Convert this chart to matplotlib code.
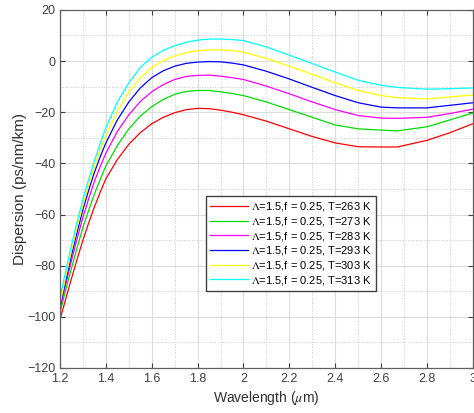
import matplotlib
matplotlib.use('Agg')
import matplotlib.pyplot as plt
from matplotlib.ticker import MultipleLocator, FuncFormatter

plt.rcParams['font.family'] = ['Liberation Sans', 'DejaVu Sans']
plt.rcParams['mathtext.fontset'] = 'stix'

wavelength = [1.2, 1.225, 1.25, 1.275, 1.3, 1.325, 1.35, 1.375, 1.4, 1.45, 1.5,
              1.55, 1.6, 1.65, 1.7, 1.75, 1.8, 1.85, 1.9, 1.95, 2.0, 2.1, 2.2,
              2.3, 2.4, 2.5, 2.6, 2.67, 2.8, 2.9, 3.0]

d_263 = [-101, -93, -85, -77.3, -70, -63.3, -57, -51.3, -46, -38.5, -32.5,
         -28, -24.5, -22, -20.2, -19, -18.5, -18.6, -19.2, -20, -21, -23.5, -26.5,
         -29.5, -32, -33.5, -33.6, -33.6, -31, -28, -24.5]
d_273 = [-98.5, -89.5, -81, -72.8, -65, -58.3, -52, -46.3, -41, -33, -26.5,
         -21.5, -17.8, -15, -13, -11.9, -11.5, -11.5, -12, -12.7, -13.5, -16, -19,
         -22, -25, -26.5, -27, -27.3, -25.7, -23, -20.3]
d_283 = [-97, -87.3, -78, -69.3, -61, -53.8, -47, -41.3, -36, -27.5, -21,
         -15.8, -12, -9.2, -7.2, -6, -5.6, -5.5, -5.9, -6.5, -7.2, -9.8, -12.8,
         -16, -19, -21.3, -22.3, -22.4, -22, -20.5, -18.8]
d_293 = [-96, -85.8, -76, -66.8, -58, -50.5, -43.5, -37.5, -32, -23, -16,
         -10.5, -6.5, -3.8, -2, -0.9, -0.4, -0.2, -0.3, -0.8, -1.5, -4, -7,
         -10.3, -13.5, -16.3, -18, -18.3, -18.3, -17.3, -16.3]
d_303 = [-95, -84.3, -74, -64.6, -56, -48.2, -41, -34.7, -29, -19.5, -12,
         -6.5, -2.5, 0.2, 2, 3.3, 4, 4.4, 4.4, 4.1, 3.5, 1, -2,
         -5.2, -8.5, -11.5, -13.5, -14.3, -14.8, -14, -13.3]
d_313 = [-92.5, -82, -72, -62.7, -54, -46.2, -39, -32.3, -26, -16, -8.5,
         -2.5, 1.5, 4.2, 6, 7.3, 8.2, 8.6, 8.6, 8.4, 8, 5.5, 2.3,
         -1, -4.3, -7.5, -9.5, -10.3, -11, -10.8, -10.5]

temps = [263, 273, 283, 293, 303, 313]
series = [d_263, d_273, d_283, d_293, d_303, d_313]
colors = ['#ff0000', '#00dd00', '#ff00ff', '#0000ff', '#ffff00', '#00ffff']

fig = plt.figure(figsize=(4.74, 4.13), dpi=100)
ax = fig.add_axes([0.1266, 0.109, 0.871, 0.867])

for t, d, c in zip(temps, series, colors):
    ax.plot(wavelength, d, color=c, lw=0.9,
            label=r'$\Lambda$=1.5,f = 0.25, T=%d K' % t)

ax.set_xlim(1.2, 3.0)
ax.set_ylim(-120, 20)
ax.xaxis.set_major_locator(MultipleLocator(0.2))
ax.xaxis.set_minor_locator(MultipleLocator(0.1))
ax.yaxis.set_major_locator(MultipleLocator(20))
ax.yaxis.set_minor_locator(MultipleLocator(10))
ax.xaxis.set_major_formatter(FuncFormatter(lambda v, p: ('%g' % round(v, 2))))

ax.grid(which='major', color='#dcdcdc', lw=0.8, ls='-')
ax.grid(which='minor', color='#c8c8c8', lw=0.7, ls=':')
ax.set_axisbelow(True)

ax.tick_params(which='both', direction='in', top=True, right=True,
               colors='#404040', labelsize=9)
ax.tick_params(which='minor', length=0)
for s in ax.spines.values():
    s.set_color('#606060')
    s.set_linewidth(0.9)

ax.set_xlabel(r'Wavelength ($\mu$m)', fontsize=10, color='#303030', labelpad=3)
ax.set_ylabel('Dispersion (ps/nm/km)', fontsize=11, color='#303030', labelpad=0)

leg = ax.legend(loc='upper left', bbox_to_anchor=(0.339, 0.496), fontsize=8,
                handlelength=3.4, handletextpad=0.3, labelspacing=0.15,
                borderpad=0.4, fancybox=False, framealpha=1, edgecolor='#404040')
leg.get_frame().set_linewidth(1.0)

fig.savefig('out.png', dpi=100)
